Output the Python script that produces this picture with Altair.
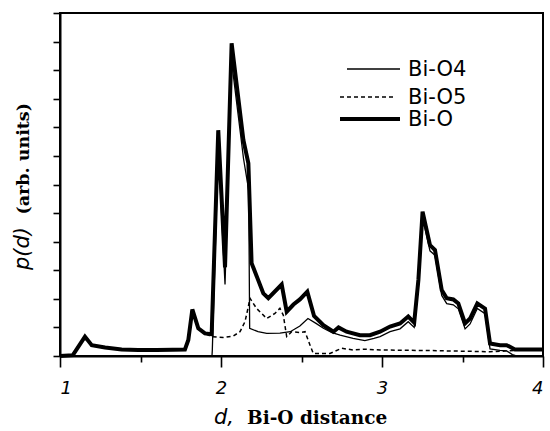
import altair as alt
import pandas as pd

# Pair distribution p(d) of Bi-O distances, split by oxygen site
d_bio4 = [1.00, 1.944, 1.946, 1.983, 2.025, 2.066, 2.140, 2.172, 2.178, 2.230, 2.284, 2.366,
          2.430, 2.490, 2.540, 2.590, 2.636, 2.690, 2.740, 2.820, 2.894, 2.950, 2.988, 3.050,
          3.112, 3.163, 3.200, 3.226, 3.252, 3.298, 3.329, 3.371, 3.402, 3.443, 3.474, 3.516,
          3.547, 3.592, 3.640, 3.671, 3.733, 3.774, 3.810, 3.840, 4.00]
p_bio4 = [0.0, 0.0, 0.2, 7.3, 2.5, 10.3, 6.9, 5.8, 0.97, 0.85, 0.79, 0.80,
          0.85, 1.05, 1.31, 1.14, 0.97, 0.82, 0.73, 0.62, 0.54, 0.62, 0.68, 0.85,
          0.95, 1.20, 1.00, 2.45, 4.85, 3.68, 3.52, 2.12, 1.83, 1.79, 1.65, 0.95,
          1.12, 1.66, 1.48, 0.25, 0.20, 0.18, 0.05, 0.0, 0.0]

d_bio5 = [1.00, 1.080, 1.155, 1.197, 1.280, 1.383, 1.486, 1.600, 1.700, 1.776, 1.797, 1.822,
          1.859, 1.900, 1.942, 2.014, 2.077, 2.118, 2.149, 2.163, 2.180, 2.220, 2.284, 2.335,
          2.366, 2.387, 2.408, 2.439, 2.490, 2.522, 2.553, 2.573, 2.677, 2.750, 2.820, 2.894,
          2.988, 3.300, 3.670, 3.750, 3.830, 4.00]
p_bio5 = [0.0, 0.03, 0.68, 0.38, 0.30, 0.23, 0.21, 0.21, 0.22, 0.23, 0.56, 1.63,
          0.97, 0.79, 0.68, 0.65, 0.70, 0.85, 1.20, 1.55, 2.02, 1.67, 1.31, 1.49,
          1.67, 1.43, 0.68, 0.85, 0.82, 0.85, 0.38, 0.09, 0.09, 0.27, 0.21, 0.24,
          0.21, 0.19, 0.15, 0.17, 0.20, 0.22]

d_bio = [1.00, 1.080, 1.155, 1.197, 1.280, 1.383, 1.486, 1.600, 1.700, 1.776, 1.797, 1.822,
         1.859, 1.900, 1.942, 1.983, 2.025, 2.066, 2.139, 2.170, 2.190, 2.263, 2.294, 2.377,
         2.408, 2.450, 2.490, 2.536, 2.578, 2.636, 2.698, 2.730, 2.780, 2.863, 2.925, 2.988,
         3.050, 3.112, 3.163, 3.200, 3.226, 3.252, 3.298, 3.329, 3.371, 3.402, 3.443, 3.474,
         3.516, 3.547, 3.592, 3.640, 3.671, 3.733, 3.774, 3.826, 4.00]
p_bio = [0.0, 0.03, 0.68, 0.38, 0.30, 0.23, 0.21, 0.21, 0.22, 0.23, 0.56, 1.63,
         0.97, 0.79, 0.76, 7.90, 3.10, 10.94, 7.56, 6.74, 3.25, 2.19, 2.02, 2.50,
         1.55, 1.80, 1.98, 2.25, 1.40, 1.08, 0.85, 1.00, 0.85, 0.73, 0.73, 0.85,
         1.03, 1.14, 1.38, 1.17, 2.66, 5.05, 3.88, 3.71, 2.31, 2.02, 1.98, 1.84,
         1.14, 1.31, 1.84, 1.66, 0.44, 0.38, 0.38, 0.23, 0.23]

x_ticks = [1, 1.5, 2, 2.5, 3, 3.5, 4]
y_ticks = list(range(0, 13))

frames = []
for name, xs, ys in [("Bi-O", d_bio, p_bio), ("Bi-O5", d_bio5, p_bio5), ("Bi-O4", d_bio4, p_bio4)]:
    frames.append(pd.DataFrame({"d": xs, "p": ys, "pair": name}))
df = pd.concat(frames, ignore_index=True)

W, H = 483, 343

# line style of each pair: stroke width and dash pattern
styles = {
    "Bi-O": dict(strokeWidth=4.0),
    "Bi-O5": dict(strokeWidth=1.5, strokeDash=[4, 3]),
    "Bi-O4": dict(strokeWidth=1.3),
}

x_enc = alt.X("d:Q", scale=alt.Scale(domain=[1, 4], nice=False, zero=False),
              axis=alt.Axis(values=x_ticks, title=None,
                            labelExpr="datum.value % 1 === 0 ? '' + datum.value : ''",
                            tickSize={"condition": {"test": "datum.value % 1 === 0", "value": 11}, "value": 6},
                            labelFont="DejaVu Sans", labelFontStyle="italic",
                            labelFontSize=18, labelColor="black", labelPadding=12,
                            domainColor="black", domainWidth=2, tickColor="black",
                            tickWidth=1.6, grid=False))
y_enc = alt.Y("p:Q", scale=alt.Scale(domain=[0, 12], nice=False),
              axis=alt.Axis(values=y_ticks, title=None, labels=False, tickSize=7,
                            domainColor="black", domainWidth=2, tickColor="black",
                            tickWidth=1.6, grid=False))

base = alt.Chart(df)
layers = []
for name in ["Bi-O", "Bi-O5", "Bi-O4"]:
    layers.append(
        base.transform_filter(alt.datum.pair == name)
        .mark_line(color="black", strokeJoin="miter", strokeCap="butt", **styles[name])
        .encode(x=x_enc, y=y_enc)
    )

# legend: sample line + name for each pair
legend_rows = [("Bi-O4", 287, 340, 56), ("Bi-O5", 280, 333, 84), ("Bi-O", 280, 340, 106)]
for name, x0, x1, yy in legend_rows:
    one = alt.Chart(pd.DataFrame({"t": [name]}))
    layers.append(
        one.mark_rule(color="black", strokeCap="butt", **styles[name])
        .encode(x=alt.value(x0), x2=alt.value(x1), y=alt.value(yy))
    )
    layers.append(
        one.mark_text(align="left", baseline="middle", font="DejaVu Sans", fontSize=21,
                      color="black")
        .encode(x=alt.value(348), y=alt.value(yy + 1), text="t:N")
    )


def label(text, x, y, angle=0, align="left", font="DejaVu Serif", style="normal",
          weight="bold", size=18.5):
    return alt.Chart(pd.DataFrame({"t": [text]})).mark_text(
        align=align, baseline="alphabetic", angle=angle, font=font, fontStyle=style,
        fontWeight=weight, fontSize=size, color="black",
    ).encode(x=alt.value(x), y=alt.value(y), text="t:N")


layers += [
    label("d,", 154, 411, font="DejaVu Sans", style="italic", weight="normal", size=21),
    label("Bi-O distance", 187, 411),
    label("p(d)", -31, 257, angle=270, font="DejaVu Sans", style="italic", weight="normal", size=21),
    label("(arb. units)", -31, 90, angle=270, align="right", size=17.5),
]

chart = alt.layer(*layers).properties(
    width=W, height=H,
    autosize=alt.AutoSizeParams(type="none"),
    padding={"left": 60, "top": 13, "right": 7, "bottom": 75},
    background="white",
).configure_view(stroke="black", strokeWidth=2)

chart.save("out.html", embed_options={"renderer": "svg", "actions": False})
